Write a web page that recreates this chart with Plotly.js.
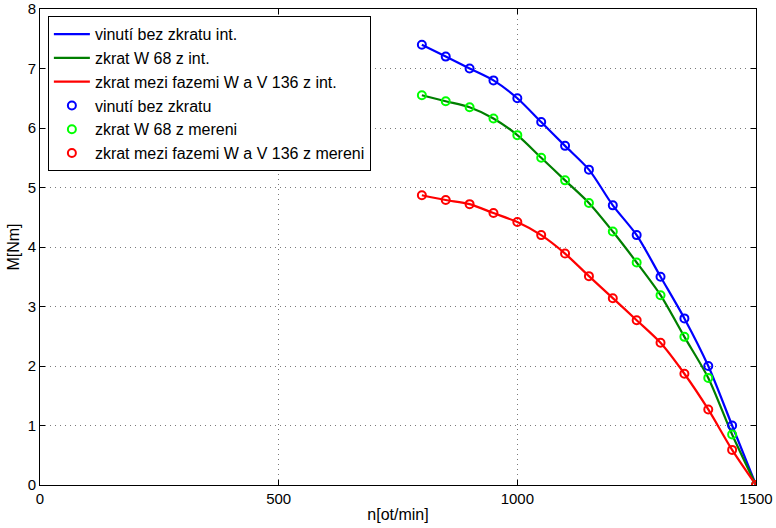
<!DOCTYPE html>
<html>
<head>
<meta charset="utf-8">
<script src="https://cdn.plot.ly/plotly-3.0.1.min.js"></script>
<style>html,body{margin:0;padding:0;background:#fff;}#chart{width:776px;height:528px;}</style>
</head>
<body>
<div id="chart"></div>
<script>
const speed = [800, 850, 900, 950, 1000, 1050, 1100, 1150, 1200, 1250, 1300, 1350, 1400, 1450, 1500];
const torqueHealthy = [7.4, 7.2, 7.0, 6.8, 6.5, 6.1, 5.7, 5.3, 4.7, 4.2, 3.5, 2.8, 2.0, 1.0, 0];
const torqueW68 = [6.55, 6.45, 6.35, 6.16, 5.88, 5.5, 5.12, 4.74, 4.26, 3.74, 3.19, 2.49, 1.8, 0.85, 0];
const torqueWV136 = [4.87, 4.79, 4.72, 4.57, 4.42, 4.2, 3.89, 3.51, 3.14, 2.77, 2.39, 1.87, 1.27, 0.59, 0];
const lineNames = ['vinutí bez zkratu int.', 'zkrat W 68 z int.', 'zkrat mezi fazemi W a V 136 z int.'];
const markerNames = ['vinutí bez zkratu', 'zkrat W 68 z mereni', 'zkrat mezi fazemi W a V 136 z mereni'];
const lineColors = ['#0000ff', '#007f00', '#ff0000'];
const markerColors = ['#0000ff', '#00ff00', '#ff0000'];
const xTicks = [0, 500, 1000, 1500];
const yTicks = [0, 1, 2, 3, 4, 5, 6, 7, 8];

const series = [torqueHealthy, torqueW68, torqueWV136];
const traces = [];
series.forEach((s, i) => {
  traces.push({x: speed, y: s, mode: 'lines', name: lineNames[i], type: 'scatter',
    line: {color: lineColors[i], width: 2.2, shape: 'spline', smoothing: 0.8}});
});
series.forEach((s, i) => {
  traces.push({x: speed, y: s, mode: 'markers', name: markerNames[i], type: 'scatter',
    marker: {symbol: 'circle-open', size: 8, color: markerColors[i], line: {width: 2, color: markerColors[i]}}});
});

const font = {family: 'Liberation Sans, Arial, Helvetica, sans-serif', size: 15, color: '#000'};
const axisCommon = {
  showline: true, linecolor: '#000', linewidth: 1, mirror: 'ticks',
  ticks: 'inside', ticklen: 5, tickcolor: '#000',
  showgrid: true, gridcolor: '#7a7a7a', griddash: '1px,4px', gridwidth: 1,
  zeroline: false, tickfont: font
};
const layout = {
  width: 776, height: 528,
  margin: {l: 40, r: 20, t: 9, b: 43},
  paper_bgcolor: '#fff', plot_bgcolor: '#fff',
  font: font,
  showlegend: true,
  xaxis: Object.assign({}, axisCommon, {range: [0, 1500], tickvals: xTicks, ticktext: xTicks.map(String),
    title: {text: 'n[ot/min]', font: {size: 16}, standoff: 2}}),
  yaxis: Object.assign({}, axisCommon, {range: [0, 8], tickvals: yTicks, ticktext: yTicks.map(String),
    title: {text: 'M[Nm]', font: {size: 16}, standoff: 4}}),
  legend: {x: 0.011, y: 0.985, xanchor: 'left', yanchor: 'top', bgcolor: '#fff',
    bordercolor: '#000', borderwidth: 1, font: {size: 16}, tracegroupgap: 0, itemwidth: 36}
};
Plotly.newPlot('chart', traces, layout, {displayModeBar: false, staticPlot: true});
</script>
</body>
</html>
